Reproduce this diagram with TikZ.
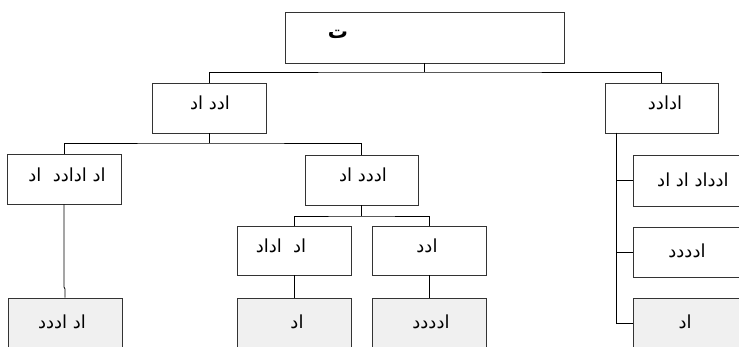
\documentclass[tikz,border=0pt]{standalone}
\usepackage{fontspec}
\TeXXeTstate=1
\newfontfamily\arabicfont[Script=Arabic]{DejaVu Sans}
\newcommand{\artxt}[1]{{\arabicfont\beginR #1\endR}}
\begin{document}
\begin{tikzpicture}[x=1pt,y=-1pt,
  box/.style={draw=black!80, line width=0.8pt, rectangle, inner sep=0pt},
  gbox/.style={box, fill=black!6},
  lbl/.style={inner sep=0pt, font=\fontsize{18}{20}\selectfont},
  conn/.style={draw=black, line width=0.7pt}]
\useasboundingbox (0,0) rectangle (739,347);
\clip (0,0) rectangle (739,347);
\fill[white] (0,0) rectangle (739,347);
% boxes
\node[box, minimum width=279pt, minimum height=51pt] (A) at (424.5,37.5) {};
\node[box, minimum width=114pt, minimum height=50pt] (B) at (209,108) {};
\node[box, minimum width=113pt, minimum height=50pt] (C) at (661.5,108) {};
\node[box, minimum width=114pt, minimum height=50pt] (D) at (64,179) {};
\node[box, minimum width=113pt, minimum height=50pt] (E) at (361.5,180) {};
\node[box, minimum width=114pt, minimum height=49pt] (F) at (294,250.5) {};
\node[box, minimum width=114pt, minimum height=49pt] (G) at (429,250.5) {};
\node[gbox, minimum width=114pt, minimum height=50pt] (H) at (65,323) {};
\node[gbox, minimum width=114pt, minimum height=50pt] (I) at (294,323) {};
\node[gbox, minimum width=114pt, minimum height=50pt] (J) at (429,323) {};
\node[box, minimum width=117pt, minimum height=51pt] (K) at (691.5,180.5) {};
\node[box, minimum width=117pt, minimum height=50pt] (L) at (691.5,252) {};
\node[gbox, minimum width=117pt, minimum height=50pt] (M) at (691.5,323) {};
% texts
\node[lbl, font=\fontsize{20}{22}\selectfont\bfseries] (tA) at (338,34) {\artxt{ت}};
\node[lbl] (tB) at (210,103) {\artxt{ادد اد}};
\node[lbl] (tC) at (665,103) {\artxt{ادادد}};
\node[lbl] (tD) at (67,175) {\artxt{اد ادادد\ \ اد}};
\node[lbl] (tE) at (363,175) {\artxt{اددد اد}};
\node[lbl] (tF) at (281,246) {\artxt{اد\ \ اداد}};
\node[lbl] (tG) at (427,246) {\artxt{ادد}};
\node[lbl] (tH) at (62,322) {\artxt{اد اددد}};
\node[lbl] (tI) at (297,322) {\artxt{اد}};
\node[lbl] (tJ) at (431,322) {\artxt{ادددد}};
\node[lbl] (tK) at (693,180) {\artxt{ادداد اد اد}};
\node[lbl] (tL) at (687,251) {\artxt{ادددد}};
\node[lbl] (tM) at (685,322) {\artxt{اد}};
% junctions
\coordinate (jA) at (424.5,72);
\coordinate (jB) at (209,143);
\coordinate (jE) at (361.5,216);
\coordinate (jD) at (64,287);
\coordinate (jD2) at (65,289);
\coordinate (cC) at (616,133);
% connectors
\draw[conn] (A.south) -- (jA);
\draw[conn] (B.north) |- (jA) -| (C.north);
\draw[conn] (B.south) -- (jB);
\draw[conn] (D.north) |- (jB) -| (E.north);
\draw[conn] (E.south) -- (jE);
\draw[conn] (F.north) |- (jE) -| (G.north);
\draw[conn] (D.south) -- (jD) -- (jD2) -- (H.north);
\draw[conn] (F.south) -- (I.north);
\draw[conn] (G.south) -- (J.north);
\draw[conn] (cC) |- (K.west);
\draw[conn] (cC) |- (L.west);
\draw[conn] (cC) |- (M.west);
\end{tikzpicture}
\end{document}
